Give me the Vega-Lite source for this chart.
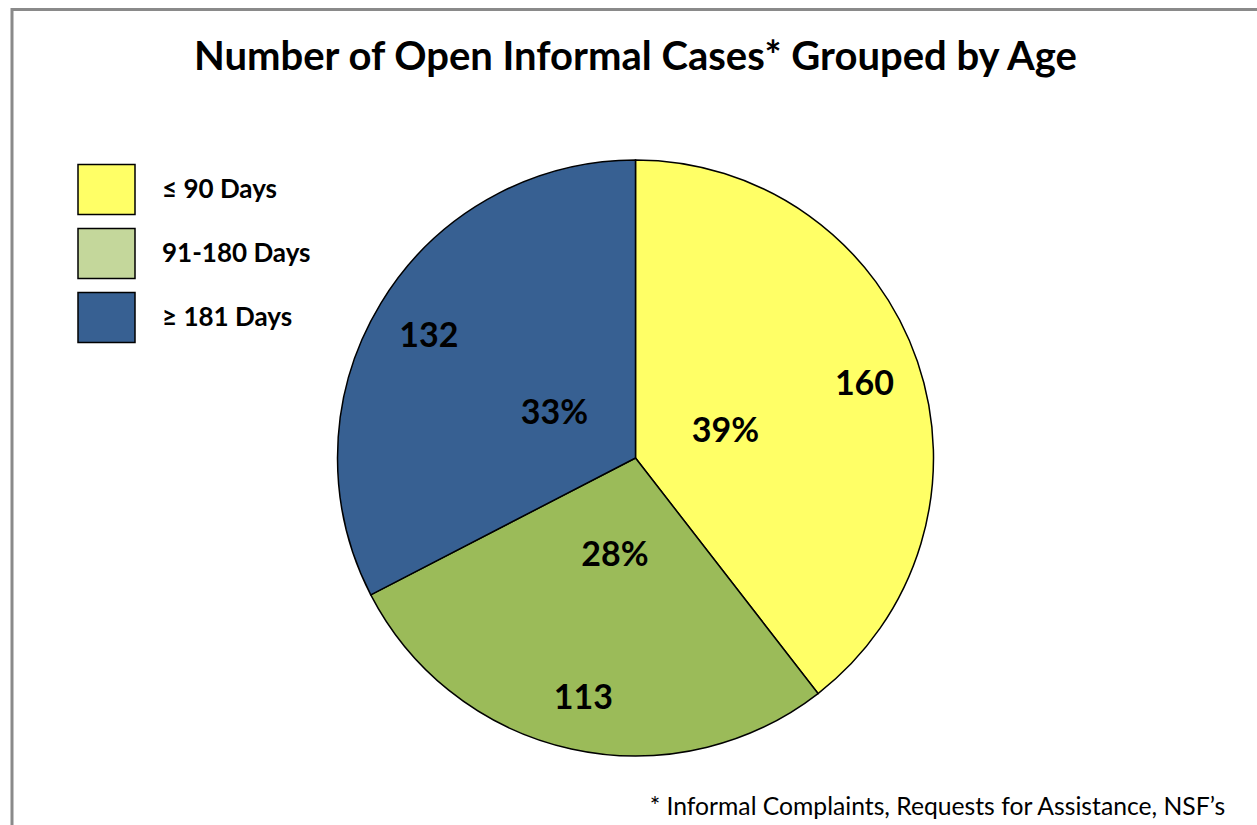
{
  "$schema": "https://vega.github.io/schema/vega-lite/v6.json",
  "width": 1257,
  "height": 825,
  "autosize": {"type": "fit", "contains": "padding"},
  "padding": {"left": 12, "top": 9.5, "right": -2, "bottom": -81.5},
  "background": "white",
  "config": {
    "view": {"stroke": "#8a8a8a", "strokeWidth": 3},
    "font": "Lato"
  },
  "title": {
    "text": "Number of Open Informal Cases* Grouped by Age",
    "font": "Lato",
    "fontSize": 40,
    "fontWeight": "bold",
    "color": "black",
    "anchor": "middle",
    "frame": "group",
    "baseline": "alphabetic",
    "offset": -100.5
  },
  "data": {
    "values": [
      {"cat": "≤ 90 Days", "n": 160, "pct": "39%", "o": 1},
      {"cat": "91-180 Days", "n": 113, "pct": "28%", "o": 2},
      {"cat": "≥ 181 Days", "n": 132, "pct": "33%", "o": 3}
    ]
  },
  "layer": [
    {
      "mark": {"type": "arc", "outerRadius": 298, "opacity": 0},
      "encoding": {
        "theta": {"field": "n", "type": "quantitative", "stack": true},
        "order": {"field": "o", "type": "quantitative"},
        "color": {
          "field": "cat",
          "type": "nominal",
          "sort": ["≤ 90 Days", "91-180 Days", "≥ 181 Days"],
          "scale": {
            "domain": ["≤ 90 Days", "91-180 Days", "≥ 181 Days"],
            "range": ["#FFFF66", "#C4D79B", "#376092"]
          },
          "legend": {
            "orient": "none",
            "legendX": 65,
            "legendY": 150.5,
            "title": null,
            "padding": 0,
            "symbolType": "M-1,-0.877L1,-0.877L1,0.877L-1,0.877Z",
            "symbolSize": 3249,
            "symbolStrokeColor": "black",
            "symbolStrokeWidth": 1.5,
            "symbolOpacity": 1,
            "labelFont": "Lato",
            "labelFontSize": 26,
            "labelFontWeight": "bold",
            "labelColor": "black",
            "labelOffset": 26,
            "rowPadding": 6,
            "labelLimit": 400,
            "encode": {
              "symbols": {
                "update": {
                  "stroke": {"value": "black"},
                  "strokeWidth": {"value": 1.5},
                  "opacity": {"value": 1}
                }
              }
            }
          }
        }
      }
    },
    {
      "mark": {"type": "arc", "outerRadius": 298, "stroke": "black", "strokeWidth": 1.5},
      "encoding": {
        "theta": {"field": "n", "type": "quantitative", "stack": true},
        "order": {"field": "o", "type": "quantitative"},
        "fill": {
          "field": "cat",
          "type": "nominal",
          "sort": ["≤ 90 Days", "91-180 Days", "≥ 181 Days"],
          "scale": {
            "domain": ["≤ 90 Days", "91-180 Days", "≥ 181 Days"],
            "range": ["#FFFF66", "#9BBB59", "#376092"]
          },
          "legend": null
        }
      }
    },
    {
      "mark": {"type": "text", "radius": 95, "dy": 5, "font": "Lato", "fontSize": 34, "fontWeight": "bold", "color": "black"},
      "encoding": {
        "theta": {"field": "n", "type": "quantitative", "stack": true},
        "order": {"field": "o", "type": "quantitative"},
        "text": {"field": "pct", "type": "nominal"}
      }
    },
    {
      "mark": {"type": "text", "radius": 242, "dy": 5, "font": "Lato", "fontSize": 34, "fontWeight": "bold", "color": "black"},
      "encoding": {
        "theta": {"field": "n", "type": "quantitative", "stack": true},
        "order": {"field": "o", "type": "quantitative"},
        "text": {"field": "n", "type": "quantitative"}
      }
    },
    {
      "data": {"values": [{"note": "* Informal Complaints, Requests for Assistance, NSF’s", "px": 0.9728, "py": 0.102}]},
      "mark": {"type": "text", "align": "right", "baseline": "alphabetic", "font": "Lato", "fontSize": 24.7, "color": "black"},
      "encoding": {
        "x": {"field": "px", "type": "quantitative", "scale": {"domain": [0, 1], "nice": false, "zero": false}, "axis": null},
        "y": {"field": "py", "type": "quantitative", "scale": {"domain": [0, 1], "nice": false, "zero": false}, "axis": null},
        "text": {"field": "note", "type": "nominal"}
      }
    }
  ]
}
